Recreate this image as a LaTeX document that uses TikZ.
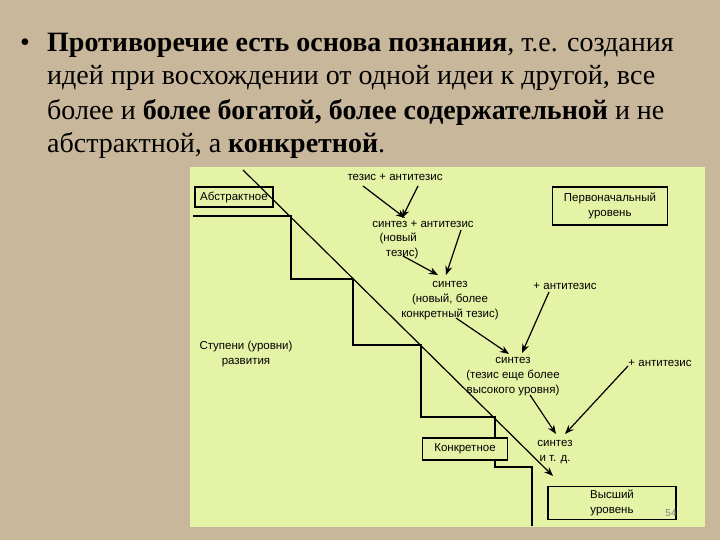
\documentclass[tikz,border=0pt]{standalone}
\usepackage{fontspec}
\setmainfont{Liberation Serif}
\newfontfamily\diag{Liberation Sans}
\usetikzlibrary{arrows.meta}
\definecolor{wood}{HTML}{C8B79B}
\definecolor{panel}{HTML}{E4F3A6}
\begin{document}
\begin{tikzpicture}[x=1pt,y=-1pt,
  ttl/.style={anchor=west,inner sep=0pt,font=\fontsize{28}{30}\selectfont},
  lbl/.style={inner sep=0pt,font=\diag\fontsize{11.5}{15}\selectfont,align=center},
  bx/.style={draw,line width=1.8pt,inner sep=0pt},
  ln/.style={line width=1.6pt},
  arr/.style={line width=1.2pt,-{Stealth[length=9pt,width=7pt]}}]
\fill[wood] (0,0) rectangle (720,540);
\useasboundingbox (0,0) rectangle (720,540);
\fill[panel] (190,167) rectangle (705,527);
% title
\node[ttl] (bul) at (20,45) {•};
\node[ttl] (t1) at (47,45) {\textbf{Противоречие есть основа познания}, т.е. создания};
\node[ttl] (t2) at (47,78) {идей при восхождении от одной идеи к другой, все};
\node[ttl] (t3) at (47,112) {более и \textbf{более богатой, более содержательной} и не};
\node[ttl] (t4) at (47,145) {абстрактной, а \textbf{конкретной}.};
% staircase
\draw[ln] (193,216) -- (291,216) -- (291,279) -- (353,279) -- (353,345) -- (421,345) -- (421,417) -- (495,417) -- (495,467) -- (532,467) -- (532,526);
% boxes
\node[bx,fill=panel,minimum width=78pt,minimum height=20pt,lbl] (abs) at (234,197) {Абстрактное};
\node[bx,minimum width=115pt,minimum height=38pt,lbl] (perv) at (610,206) {Первоначальный\\уровень};
\node[bx,fill=panel,minimum width=85pt,minimum height=22pt,lbl] (konk) at (465,449) {Конкретное};
\node[bx,minimum width=128pt,minimum height=33pt,lbl] (vys) at (612,503) {Высший\\уровень};
% diagonal
\coordinate (d0) at (243,170);
\coordinate (d1) at (553,476);
\draw[arr] (d0) -- (d1);
% labels
\node[lbl] (ta) at (395,177) {тезис + антитезис};
\node[lbl] (sa) at (423,224) {синтез + антитезис};
\node[lbl,align=left] (nt) at (399,246) {(новый\\\ \ тезис)};
\node[lbl] (s2) at (450,301) {синтез\\(новый, более\\конкретный тезис)};
\node[lbl] (a2) at (565,286) {+ антитезис};
\node[lbl] (st) at (246,354) {Ступени (уровни)\\развития};
\node[lbl] (s3) at (513,377) {синтез\\(тезис еще более\\высокого уровня)};
\node[lbl] (a3) at (660,363) {+ антитезис};
\node[lbl] (s4) at (555,452) {синтез\\и т. д.};
\node[inner sep=0pt,font=\diag\fontsize{10}{10}\selectfont,text=gray] (pg) at (671,513) {54};
% arrows
\coordinate (e1a) at (363,186); \coordinate (e1b) at (405,218);
\coordinate (e2a) at (418,186); \coordinate (e2b) at (402,218);
\coordinate (e3a) at (403,256); \coordinate (e3b) at (438,275);
\coordinate (e4a) at (461,230); \coordinate (e4b) at (446,275);
\coordinate (e5a) at (456,318); \coordinate (e5b) at (509,354);
\coordinate (e6a) at (549,292); \coordinate (e6b) at (522,353);
\coordinate (e7a) at (530,395); \coordinate (e7b) at (556,434);
\coordinate (e8a) at (628,366); \coordinate (e8b) at (565,434);
\foreach \i in {1,...,8} \draw[arr] (e\i a) -- (e\i b);
\end{tikzpicture}
\end{document}
